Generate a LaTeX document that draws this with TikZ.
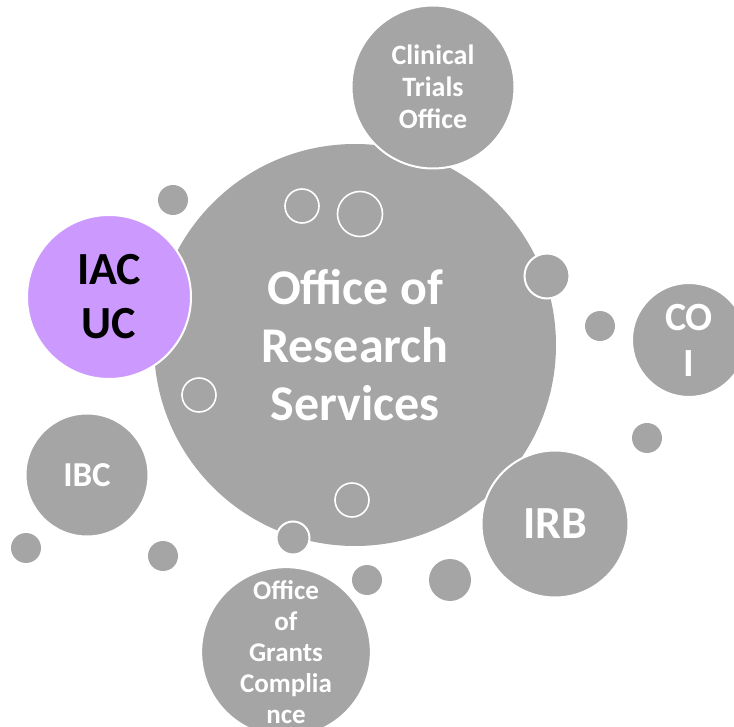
\documentclass[tikz,border=0pt]{standalone}
\usepackage{fontspec}
\setmainfont{Carlito}
\usepackage{tikz}
\usepackage{xcolor}
\usetikzlibrary{positioning}

\definecolor{bubblegray}{HTML}{A5A5A5}
\definecolor{bubblepurple}{HTML}{CC99FF}

\begin{document}
\begin{tikzpicture}[x=1pt, y=-1pt,
    bubble/.style={circle, fill=bubblegray, draw=white, line width=2pt, inner sep=0pt, align=center, text=white, font=\bfseries},
    dot/.style={circle, fill=bubblegray, inner sep=0pt},
    ring/.style={circle, draw=white, line width=1.6pt, inner sep=0pt}]
            \useasboundingbox (0, 0) rectangle (734, 727);
            \clip (0, 0) rectangle (734, 727);

            % centre
            \node[bubble, draw=none, minimum size=402pt, font=\bfseries\fontsize{50}{58}\selectfont] (ors) at (355, 345) {Office of\\Research\\Services};

            % bubbles round it
            \node[bubble, minimum size=163pt, font=\bfseries\fontsize{28}{32}\selectfont] (cto) at (433, 87) {Clinical\\Trials\\Office};
            \node[bubble, fill=bubblepurple, text=black, minimum size=164pt, font=\bfseries\fontsize{46}{54}\selectfont] (iacuc) at (109, 297) {IAC\\UC};
            \node[bubble, minimum size=114pt, font=\bfseries\fontsize{40}{46}\selectfont] (coi) at (689, 340) {CO\\I};
            \node[bubble, minimum size=123pt, font=\bfseries\fontsize{35}{42}\selectfont] (ibc) at (87, 475) {IBC};
            \node[bubble, minimum size=147pt, font=\bfseries\fontsize{46}{54}\selectfont] (irb) at (555, 524) {IRB};
            \node[bubble, minimum size=161pt, font=\bfseries\fontsize{27}{31}\selectfont] (ogc) at (286, 652) {Office\\of\\Grants\\Complia\\nce};

            % small dots
            \node[dot, minimum size=30pt] (d1) at (173, 200) {};
            \node[dot, minimum size=30pt] (d2) at (600, 326) {};
            \node[dot, minimum size=30pt] (d3) at (647, 438) {};
            \node[dot, minimum size=30pt] (d4) at (26, 548) {};
            \node[dot, minimum size=30pt] (d5) at (163, 556) {};
            \node[dot, minimum size=30pt] (d6) at (367, 580) {};
            \node[dot, minimum size=42pt] (d7) at (450, 580) {};
            \node[dot, draw=white, line width=2pt, minimum size=45pt] (d8) at (547, 276) {};
            \node[dot, draw=white, line width=2pt, minimum size=33pt] (d9) at (293, 538) {};

            % hollow rings
            \node[ring, minimum size=34pt] (r1) at (302, 206) {};
            \node[ring, minimum size=45pt] (r2) at (360, 214) {};
            \node[ring, minimum size=34pt] (r3) at (199, 395) {};
            \node[ring, minimum size=34pt] (r4) at (352, 500) {};
        \end{tikzpicture}
\end{document}
